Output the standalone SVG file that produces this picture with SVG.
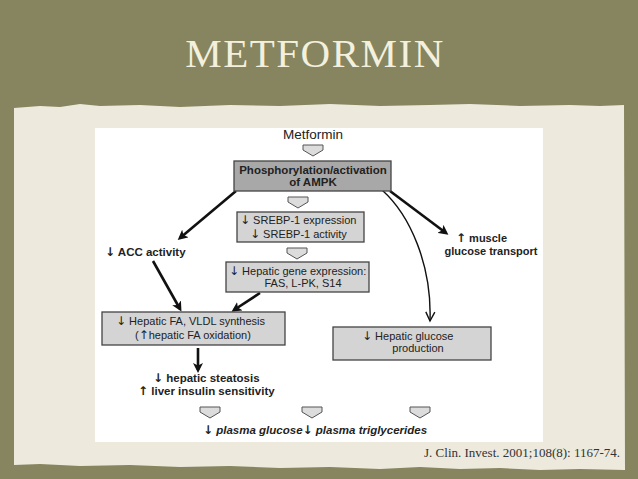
<svg xmlns="http://www.w3.org/2000/svg" width="638" height="479" viewBox="0 0 638 479">
<style>
.t{font-family:"Liberation Sans",Arial,sans-serif;fill:#222}
.b{font-weight:bold}
.a{font-family:"DejaVu Sans",sans-serif}
.box{stroke:#444;stroke-width:1.3}
.hol{fill:#dcdcdc;stroke:#555;stroke-width:1}
.thick{stroke:#111;stroke-width:2.6;fill:none}
.thin{stroke:#111;stroke-width:1.4;fill:none}
</style>
<defs>
<marker id="ah" markerWidth="10" markerHeight="10" refX="7" refY="5" orient="auto" markerUnits="userSpaceOnUse" viewBox="0 0 10 10">
<path d="M0,0 L10,5 L0,10 L2.5,5 z" fill="#111"/>
</marker>
<marker id="ao" markerWidth="12" markerHeight="12" refX="10" refY="6" orient="auto" markerUnits="userSpaceOnUse" viewBox="0 0 12 12">
<path d="M1,1.5 L10,6 L1,10.5" fill="none" stroke="#111" stroke-width="1.4"/>
</marker>
<path id="hol" d="M-10,0 H10 V5 L0,11 L-10,5 Z"/>
</defs>
<rect width="638" height="479" fill="#86855f"/>
<path d="M14,108 L40,106 L60,107 L80,104 L100,106 L140,105 L180,107 L230,105 L280,106 L330,104 L380,106 L430,105 L470,104 L520,106 L570,105 L600,106 L624,105 L625,470 L580,469 L540,470 L500,468 L460,469 L420,467 L380,469 L330,467 L280,468 L230,466 L180,467 L130,465 L80,466 L40,464 L14,465 Z" fill="#edeadd"/>
<text x="315" y="67" text-anchor="middle" font-family="'Liberation Serif','Times New Roman',serif" font-size="41" letter-spacing="1.5" fill="#f4f0de">METFORMIN</text>
<rect x="95" y="128" width="448" height="314" fill="#ffffff"/>
<g id="connectors">
<path class="thick" d="M236,191 L180,238" marker-end="url(#ah)"/>
<path class="thick" d="M390,191 L446,233" marker-end="url(#ah)"/>
<path class="thin" d="M382,190 C410,215 432,265 430,321" marker-end="url(#ao)"/>
<path class="thick" d="M153,261 L180,309" marker-end="url(#ah)"/>
<path class="thick" d="M260,293 L234,310" marker-end="url(#ah)"/>
<path class="thick" d="M198,348 L198,370" marker-end="url(#ah)"/>
<use href="#hol" class="hol" x="313" y="145"/>
<use href="#hol" class="hol" x="298" y="197"/>
<use href="#hol" class="hol" x="297" y="248"/>
<use href="#hol" class="hol" x="210" y="407"/>
<use href="#hol" class="hol" x="312" y="407"/>
<use href="#hol" class="hol" x="420" y="407"/>
</g>
<g id="metformin"><text class="t" x="313" y="139" text-anchor="middle" font-size="13.5">Metformin</text></g>
<g id="ampk">
<rect class="box" x="234" y="161" width="157" height="30" fill="#a8a8a8"/>
<text class="t b" x="313" y="174" text-anchor="middle" font-size="11.5">Phosphorylation/activation</text>
<text class="t b" x="313" y="186" text-anchor="middle" font-size="11.5">of AMPK</text>
</g>
<g id="srebp">
<rect class="box" x="237" y="212" width="127" height="30" fill="#d4d4d4"/>
<text class="t" x="240" y="224" font-size="11"><tspan class="a" font-size="12">↓</tspan> SREBP-1 expression</text>
<text class="t" x="250" y="238" font-size="11"><tspan class="a" font-size="12">↓</tspan> SREBP-1 activity</text>
</g>
<g id="hepgene">
<rect class="box" x="226" y="262" width="143" height="30" fill="#d4d4d4"/>
<text class="t" x="229" y="275" font-size="11"><tspan class="a" font-size="12">↓</tspan> Hepatic gene expression:</text>
<text class="t" x="303" y="287" text-anchor="middle" font-size="11">FAS, L-PK, S14</text>
</g>
<g id="acc"><text class="t b" x="105" y="256" font-size="11.5"><tspan class="a" font-size="12">↓</tspan> ACC activity</text></g>
<g id="muscle">
<text class="t b" x="456" y="242" font-size="11"><tspan class="a" font-size="12">↑</tspan> muscle</text>
<text class="t b" x="491" y="255" text-anchor="middle" font-size="11">glucose transport</text>
</g>
<g id="hepfa">
<rect class="box" x="102" y="312" width="183" height="33" fill="#d4d4d4"/>
<text class="t" x="116" y="325" font-size="11"><tspan class="a" font-size="12">↓</tspan>  Hepatic FA, VLDL synthesis</text>
<text class="t" x="135" y="339" font-size="11">(<tspan class="a" font-size="12">↑</tspan>hepatic FA oxidation)</text>
</g>
<g id="hepglucose">
<rect class="box" x="333" y="327" width="158" height="33" fill="#d4d4d4"/>
<text class="t" x="362" y="340" font-size="11"><tspan class="a" font-size="12">↓</tspan>  Hepatic glucose</text>
<text class="t" x="418" y="352" text-anchor="middle" font-size="11">production</text>
</g>
<g id="steatosis">
<text class="t b" x="153" y="382" font-size="11.5"><tspan class="a" font-size="12">↓</tspan> hepatic steatosis</text>
<text class="t b" x="138" y="395" font-size="11.5"><tspan class="a" font-size="12">↑</tspan> liver insulin sensitivity</text>
</g>
<g id="plasma"><text class="t b" x="203" y="434" font-size="11.5" font-style="italic"><tspan class="a" font-style="normal" font-size="12">↓</tspan> plasma glucose<tspan class="a" font-style="normal" font-size="12">↓</tspan>  plasma triglycerides</text></g>
<text x="620" y="457" text-anchor="end" font-family="'Liberation Serif','Times New Roman',serif" font-size="13" fill="#333">J. Clin. Invest. 2001;108(8): 1167-74.</text>
</svg>
